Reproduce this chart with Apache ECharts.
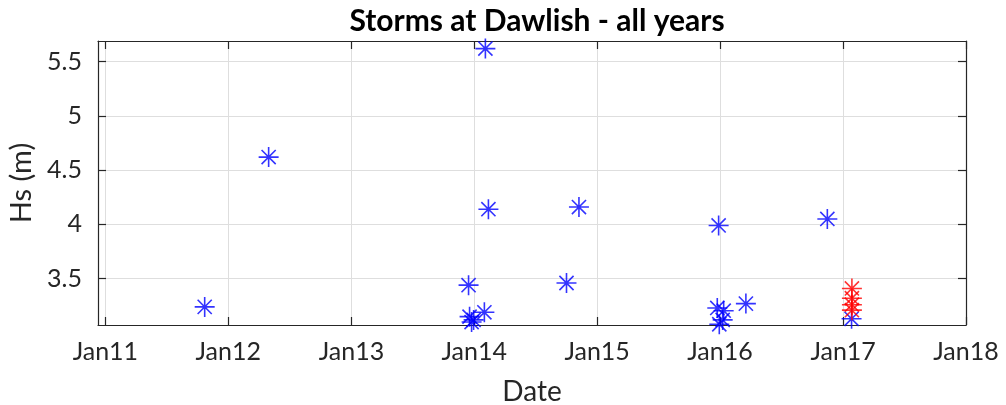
<!DOCTYPE html>
<html>
<head>
<meta charset="utf-8">
<script src="https://cdn.jsdelivr.net/npm/echarts@6/dist/echarts.min.js"></script>
<style>
  html, body { margin: 0; padding: 0; background: #ffffff; }
  #chart { width: 1006px; height: 405px; }
</style>
</head>
<body>
<div id="chart"></div>
<script>
// Storm events at Dawlish: date of the storm and significant wave height Hs (m)
const stormDates = [
  '2011-10-23', '2012-04-30', '2013-12-15', '2013-12-18', '2013-12-24',
  '2013-12-30', '2014-01-31', '2014-02-03', '2014-02-12', '2014-10-02',
  '2014-11-08', '2015-12-24', '2015-12-28', '2015-12-30', '2016-01-09',
  '2016-01-12', '2016-03-18', '2016-11-15', '2017-01-26'
];
const stormHs = [
  3.24, 4.62, 3.44, 3.15, 3.10,
  3.12, 3.19, 5.62, 4.14, 3.46,
  4.16, 3.23, 3.99, 3.08, 3.12,
  3.205, 3.27, 4.05, 3.13
];
// Latest storms, highlighted in red
const latestDates = ['2017-01-27', '2017-01-27', '2017-01-27', '2017-01-27'];
const latestHs = [3.41, 3.32, 3.26, 3.21];

const yearTicks = [2011, 2012, 2013, 2014, 2015, 2016, 2017, 2018];
const hsTicks = [3.5, 4, 4.5, 5, 5.5];

// dates are placed on a numeric (millisecond) axis
function toTime(s) {
  const p = s.split('-').map(Number);
  return new Date(p[0], p[1] - 1, p[2]).getTime();
}

const xStart = toTime('2010-12-10');
const xEnd = toTime('2018-01-01');
const yStart = 3.073;
const yEnd = 5.69;

const yearTickValues = yearTicks.map(y => new Date(y, 0, 1).getTime());

const FONT = 'Lato';
const INK = '#262626';
const asterisk = 'path://M0,-10L0,10M-10,0L10,0M-7.07,-7.07L7.07,7.07M-7.07,7.07L7.07,-7.07';

function pairs(dates, values) {
  return dates.map((d, i) => [toTime(d), values[i]]);
}

const chart = echarts.init(document.getElementById('chart'));
chart.setOption({
  animation: false,
  backgroundColor: '#ffffff',
  title: {
    text: 'Storms at Dawlish - all years',
    left: 532, textAlign: 'center', top: 1,
    textStyle: { fontFamily: FONT, fontSize: 30, fontWeight: 'bold', color: '#000000' }
  },
  grid: { left: 98, right: 40, top: 41, bottom: 80, containLabel: false, outerBoundsMode: 'none' },
  xAxis: [{
    type: 'value', position: 'bottom', min: xStart, max: xEnd,
    name: 'Date', nameLocation: 'middle', nameGap: 53,
    nameTextStyle: { fontFamily: FONT, fontSize: 28, color: INK },
    axisLine: { show: true, lineStyle: { color: INK, width: 1.2 } },
    axisTick: { show: true, inside: true, length: 8, customValues: yearTickValues, lineStyle: { color: INK, width: 1.2 } },
    axisLabel: {
      show: true, margin: 14, customValues: yearTickValues,
      fontFamily: FONT, fontSize: 25, color: INK,
      formatter: v => 'Jan' + String(new Date(v).getFullYear()).slice(2)
    },
    splitLine: { show: true, lineStyle: { color: '#dedede', width: 1 } }
  }, {
    type: 'value', position: 'top', min: xStart, max: xEnd,
    axisLine: { show: true, lineStyle: { color: INK, width: 1.2 } },
    axisTick: { show: true, inside: true, length: 8, customValues: yearTickValues, lineStyle: { color: INK, width: 1.2 } },
    axisLabel: { show: false },
    splitLine: { show: false }
  }],
  yAxis: [{
    type: 'value', position: 'left', min: yStart, max: yEnd,
    name: 'Hs (m)', nameLocation: 'middle', nameGap: 61, nameRotate: 90,
    nameTextStyle: { fontFamily: FONT, fontSize: 29, color: INK },
    axisLine: { show: true, lineStyle: { color: INK, width: 1.2 } },
    axisTick: { show: true, inside: true, length: 8, customValues: hsTicks, lineStyle: { color: INK, width: 1.2 } },
    axisLabel: {
      show: true, margin: 16, customValues: hsTicks,
      fontFamily: FONT, fontSize: 25, color: INK,
      formatter: v => String(v)
    },
    splitLine: { show: true, lineStyle: { color: '#dedede', width: 1 } }
  }, {
    type: 'value', position: 'right', min: yStart, max: yEnd,
    axisLine: { show: true, lineStyle: { color: INK, width: 1.2 } },
    axisTick: { show: true, inside: true, length: 8, customValues: hsTicks, lineStyle: { color: INK, width: 1.2 } },
    axisLabel: { show: false },
    splitLine: { show: false }
  }],
  series: [{
    type: 'scatter', xAxisIndex: 0, yAxisIndex: 0,
    data: pairs(stormDates, stormHs),
    symbol: asterisk, symbolSize: 20,
    itemStyle: { color: 'rgba(0,0,0,0)', borderColor: '#0000ff', borderWidth: 1.6 },
    emphasis: { disabled: true }, silent: true
  }, {
    type: 'scatter', xAxisIndex: 0, yAxisIndex: 0,
    data: pairs(latestDates, latestHs),
    symbol: asterisk, symbolSize: 20,
    itemStyle: { color: 'rgba(0,0,0,0)', borderColor: '#ff0000', borderWidth: 1.6 },
    emphasis: { disabled: true }, silent: true
  }]
});
</script>
</body>
</html>
